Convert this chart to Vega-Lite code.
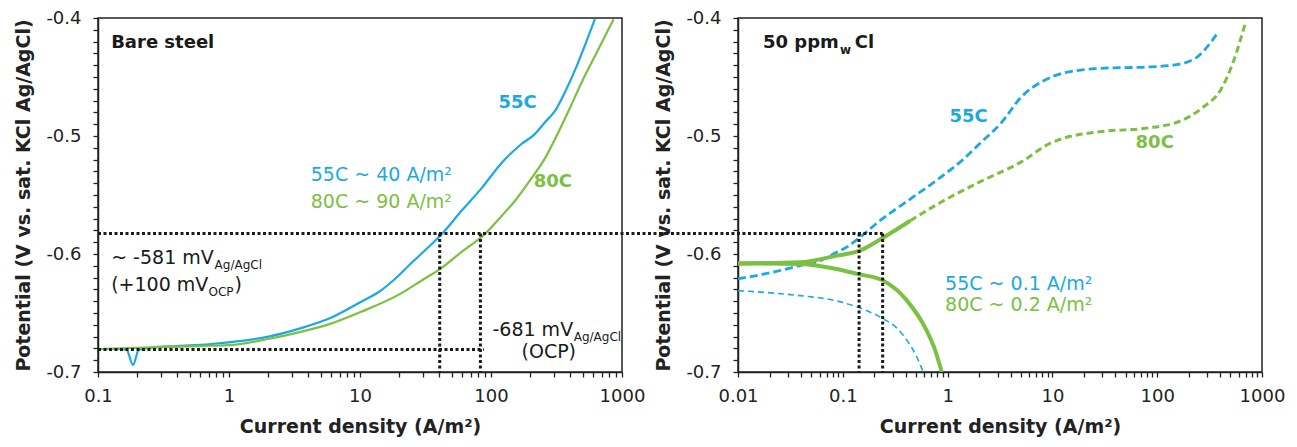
{
  "$schema": "https://vega.github.io/schema/vega-lite/v6.json",
  "background": "white",
  "padding": {"left": 14, "top": 8, "right": 0, "bottom": 0},
  "bounds": "flush",
  "spacing": 116,
  "config": {
    "font": "DejaVu Sans",
    "view": {"stroke": "#222", "strokeWidth": 1.5},
    "axis": {
      "grid": false, "domainColor": "#222", "domainWidth": 1.5,
      "tickColor": "#222", "tickWidth": 1.3, "tickSize": 5,
      "labelFont": "DejaVu Sans", "labelFontSize": 18, "labelColor": "#222",
      "titleFont": "DejaVu Sans", "titleFontSize": 19, "titleFontWeight": "bold", "titleColor": "#222",
      "labelOverlap": false, "labelFlush": false
    }
  },
  "datasets": {
    "bare": [
      {"x": 0.1, "v": -0.6805, "series": "55C"},
      {"x": 0.14, "v": -0.6805, "series": "55C"},
      {"x": 0.165, "v": -0.681, "series": "55C"},
      {"x": 0.185, "v": -0.694, "series": "55C"},
      {"x": 0.205, "v": -0.681, "series": "55C"},
      {"x": 0.25, "v": -0.6795, "series": "55C"},
      {"x": 0.4, "v": -0.678, "series": "55C"},
      {"x": 0.7, "v": -0.6765, "series": "55C"},
      {"x": 1.08, "v": -0.6744, "series": "55C"},
      {"x": 2, "v": -0.67, "series": "55C"},
      {"x": 3.5, "v": -0.663, "series": "55C"},
      {"x": 6, "v": -0.654, "series": "55C"},
      {"x": 10.2, "v": -0.6404, "series": "55C"},
      {"x": 14, "v": -0.632, "series": "55C"},
      {"x": 18.2, "v": -0.6218, "series": "55C"},
      {"x": 25, "v": -0.607, "series": "55C"},
      {"x": 32, "v": -0.596, "series": "55C"},
      {"x": 41.8, "v": -0.5835, "series": "55C"},
      {"x": 60, "v": -0.563, "series": "55C"},
      {"x": 84.5, "v": -0.5444, "series": "55C"},
      {"x": 120, "v": -0.523, "series": "55C"},
      {"x": 170, "v": -0.507, "series": "55C"},
      {"x": 215, "v": -0.4986, "series": "55C"},
      {"x": 260, "v": -0.488, "series": "55C"},
      {"x": 307, "v": -0.479, "series": "55C"},
      {"x": 370, "v": -0.462, "series": "55C"},
      {"x": 450, "v": -0.441, "series": "55C"},
      {"x": 530, "v": -0.421, "series": "55C"},
      {"x": 621, "v": -0.401, "series": "55C"},
      {"x": 0.1, "v": -0.6805, "series": "80C"},
      {"x": 0.3, "v": -0.679, "series": "80C"},
      {"x": 0.6, "v": -0.678, "series": "80C"},
      {"x": 1.08, "v": -0.677, "series": "80C"},
      {"x": 2, "v": -0.672, "series": "80C"},
      {"x": 3.53, "v": -0.666, "series": "80C"},
      {"x": 6, "v": -0.659, "series": "80C"},
      {"x": 10.2, "v": -0.649, "series": "80C"},
      {"x": 20.6, "v": -0.6334, "series": "80C"},
      {"x": 30, "v": -0.622, "series": "80C"},
      {"x": 41.8, "v": -0.612, "series": "80C"},
      {"x": 60, "v": -0.598, "series": "80C"},
      {"x": 89, "v": -0.5835, "series": "80C"},
      {"x": 120, "v": -0.568, "series": "80C"},
      {"x": 151, "v": -0.5555, "series": "80C"},
      {"x": 200, "v": -0.537, "series": "80C"},
      {"x": 258, "v": -0.519, "series": "80C"},
      {"x": 320, "v": -0.499, "series": "80C"},
      {"x": 390, "v": -0.479, "series": "80C"},
      {"x": 500, "v": -0.453, "series": "80C"},
      {"x": 650, "v": -0.428, "series": "80C"},
      {"x": 862, "v": -0.401, "series": "80C"}
    ],
    "cl": [
      {"x": 0.01, "v": -0.6211, "series": "55C", "branch": "anodic"},
      {"x": 0.02, "v": -0.616, "series": "55C", "branch": "anodic"},
      {"x": 0.039, "v": -0.6099, "series": "55C", "branch": "anodic"},
      {"x": 0.06, "v": -0.606, "series": "55C", "branch": "anodic"},
      {"x": 0.081, "v": -0.6, "series": "55C", "branch": "anodic"},
      {"x": 0.11, "v": -0.594, "series": "55C", "branch": "anodic"},
      {"x": 0.145, "v": -0.586, "series": "55C", "branch": "anodic"},
      {"x": 0.226, "v": -0.5718, "series": "55C", "branch": "anodic"},
      {"x": 0.4, "v": -0.556, "series": "55C", "branch": "anodic"},
      {"x": 0.83, "v": -0.536, "series": "55C", "branch": "anodic"},
      {"x": 1.4, "v": -0.52, "series": "55C", "branch": "anodic"},
      {"x": 2.05, "v": -0.506, "series": "55C", "branch": "anodic"},
      {"x": 3.24, "v": -0.489, "series": "55C", "branch": "anodic"},
      {"x": 5.1, "v": -0.4665, "series": "55C", "branch": "anodic"},
      {"x": 8.0, "v": -0.4538, "series": "55C", "branch": "anodic"},
      {"x": 12.7, "v": -0.4467, "series": "55C", "branch": "anodic"},
      {"x": 31.5, "v": -0.4425, "series": "55C", "branch": "anodic"},
      {"x": 78, "v": -0.4416, "series": "55C", "branch": "anodic"},
      {"x": 148, "v": -0.4397, "series": "55C", "branch": "anodic"},
      {"x": 233, "v": -0.434, "series": "55C", "branch": "anodic"},
      {"x": 321, "v": -0.4212, "series": "55C", "branch": "anodic"},
      {"x": 385, "v": -0.4113, "series": "55C", "branch": "anodic"},
      {"x": 0.01, "v": -0.631, "series": "55C", "branch": "cathodic"},
      {"x": 0.039, "v": -0.6353, "series": "55C", "branch": "cathodic"},
      {"x": 0.08, "v": -0.639, "series": "55C", "branch": "cathodic"},
      {"x": 0.14, "v": -0.6452, "series": "55C", "branch": "cathodic"},
      {"x": 0.244, "v": -0.655, "series": "55C", "branch": "cathodic"},
      {"x": 0.33, "v": -0.663, "series": "55C", "branch": "cathodic"},
      {"x": 0.41, "v": -0.6733, "series": "55C", "branch": "cathodic"},
      {"x": 0.5, "v": -0.686, "series": "55C", "branch": "cathodic"},
      {"x": 0.586, "v": -0.7, "series": "55C", "branch": "cathodic"},
      {"x": 0.01, "v": -0.608, "series": "80C", "branch": "anodic-near-ocp"},
      {"x": 0.039, "v": -0.607, "series": "80C", "branch": "anodic-near-ocp"},
      {"x": 0.0875, "v": -0.6014, "series": "80C", "branch": "anodic-near-ocp"},
      {"x": 0.145, "v": -0.5972, "series": "80C", "branch": "anodic-near-ocp"},
      {"x": 0.244, "v": -0.586, "series": "80C", "branch": "anodic-near-ocp"},
      {"x": 0.44, "v": -0.5718, "series": "80C", "branch": "anodic-near-ocp"},
      {"x": 0.44, "v": -0.5718, "series": "80C", "branch": "anodic"},
      {"x": 0.83, "v": -0.557, "series": "80C", "branch": "anodic"},
      {"x": 2.05, "v": -0.5387, "series": "80C", "branch": "anodic"},
      {"x": 5.1, "v": -0.5217, "series": "80C", "branch": "anodic"},
      {"x": 9.6, "v": -0.506, "series": "80C", "branch": "anodic"},
      {"x": 12.7, "v": -0.502, "series": "80C", "branch": "anodic"},
      {"x": 31.5, "v": -0.496, "series": "80C", "branch": "anodic"},
      {"x": 78, "v": -0.4934, "series": "80C", "branch": "anodic"},
      {"x": 162, "v": -0.4877, "series": "80C", "branch": "anodic"},
      {"x": 280, "v": -0.475, "series": "80C", "branch": "anodic"},
      {"x": 403, "v": -0.461, "series": "80C", "branch": "anodic"},
      {"x": 528, "v": -0.438, "series": "80C", "branch": "anodic"},
      {"x": 695, "v": -0.404, "series": "80C", "branch": "anodic"},
      {"x": 0.01, "v": -0.608, "series": "80C", "branch": "cathodic"},
      {"x": 0.039, "v": -0.6085, "series": "80C", "branch": "cathodic"},
      {"x": 0.08, "v": -0.612, "series": "80C", "branch": "cathodic"},
      {"x": 0.14, "v": -0.617, "series": "80C", "branch": "cathodic"},
      {"x": 0.244, "v": -0.6226, "series": "80C", "branch": "cathodic"},
      {"x": 0.41, "v": -0.6395, "series": "80C", "branch": "cathodic"},
      {"x": 0.632, "v": -0.665, "series": "80C", "branch": "cathodic"},
      {"x": 0.75, "v": -0.68, "series": "80C", "branch": "cathodic"},
      {"x": 0.879, "v": -0.7, "series": "80C", "branch": "cathodic"}
    ],
    "bareGuides": [
      {"x": 0.1, "x2": 2025, "v": -0.5827, "v2": -0.5827, "series": "note"},
      {"x": 0.1, "x2": 88, "v": -0.681, "v2": -0.681, "series": "note"},
      {"x": 40.6, "x2": 40.6, "v": -0.5827, "v2": -0.7, "series": "note"},
      {"x": 83, "x2": 83, "v": -0.5827, "v2": -0.7, "series": "note"}
    ],
    "clGuides": [
      {"x": 0.0018, "x2": 0.24, "v": -0.5827, "v2": -0.5827, "series": "note"},
      {"x": 0.143, "x2": 0.143, "v": -0.5827, "v2": -0.7, "series": "note"},
      {"x": 0.24, "x2": 0.24, "v": -0.5827, "v2": -0.7, "series": "note"}
    ],
    "bareText": [
      {"x": 0.126, "v": -0.4212, "text": "Bare steel", "kind": "heading", "series": "note"},
      {"x": 114, "v": -0.472, "text": "55C", "kind": "heading", "series": "55C"},
      {"x": 212, "v": -0.5387, "text": "80C", "kind": "heading", "series": "80C"},
      {"x": 4.21, "v": -0.533, "text": "55C ~ 40 A/m²", "kind": "note", "series": "55C"},
      {"x": 4.21, "v": -0.5557, "text": "80C ~ 90 A/m²", "kind": "note", "series": "80C"},
      {"x": 0.126, "v": -0.6038, "text": "~ -581 mV", "kind": "note", "series": "note"},
      {"x": 0.776, "v": -0.6038, "text": "Ag/AgCl", "kind": "sub", "series": "note"},
      {"x": 0.126, "v": -0.6264, "text": "(+100 mV", "kind": "note", "series": "note"},
      {"x": 0.697, "v": -0.6264, "text": "OCP", "kind": "sub", "series": "note"},
      {"x": 1.1, "v": -0.6264, "text": ")", "kind": "note", "series": "note"},
      {"x": 102.6, "v": -0.6646, "text": "-681 mV", "kind": "note", "series": "note"},
      {"x": 428, "v": -0.6646, "text": "Ag/AgCl", "kind": "sub", "series": "note"},
      {"x": 171, "v": -0.683, "text": "(OCP)", "kind": "note", "series": "note"}
    ],
    "clText": [
      {"x": 0.0173, "v": -0.4212, "text": "50 ppm", "kind": "heading", "series": "note"},
      {"x": 0.094, "v": -0.4212, "text": "w", "kind": "sub", "series": "note"},
      {"x": 0.13, "v": -0.4212, "text": "Cl", "kind": "heading", "series": "note"},
      {"x": 1.04, "v": -0.4835, "text": "55C", "kind": "heading", "series": "55C"},
      {"x": 62.2, "v": -0.506, "text": "80C", "kind": "heading", "series": "80C"},
      {"x": 0.947, "v": -0.625, "text": "55C ~ 0.1 A/m²", "kind": "note", "series": "55C"},
      {"x": 0.947, "v": -0.6434, "text": "80C ~ 0.2 A/m²", "kind": "note", "series": "80C"}
    ]
  },
  "hconcat": [
    {
      "width": 524,
      "height": 354,
      "encoding": {
        "x": {
          "field": "x", "type": "quantitative", "title": "Current density (A/m²)",
          "scale": {"type": "log", "domain": [0.1, 1000], "nice": false},
          "axis": {
            "values": [0.1,0.2,0.3,0.4,0.5,0.6,0.7,0.8,0.9,1,2,3,4,5,6,7,8,9,10,20,30,40,50,60,70,80,90,100,200,300,400,500,600,700,800,900,1000],
            "labelExpr": "abs(log(datum.value)/LN10 - round(log(datum.value)/LN10)) < 0.001 ? format(datum.value, '~g') : ''",
            "labelPadding": 10, "titlePadding": 12
          }
        },
        "y": {
          "field": "v", "type": "quantitative", "title": "Potential (V vs. sat. KCl Ag/AgCl)",
          "scale": {"domain": [-0.7, -0.4], "nice": false, "zero": false},
          "axis": {
            "values": [-0.7,-0.69,-0.68,-0.67,-0.66,-0.65,-0.64,-0.63,-0.62,-0.61,-0.6,-0.59,-0.58,-0.57,-0.56,-0.55,-0.54,-0.53,-0.52,-0.51,-0.5,-0.49,-0.48,-0.47,-0.46,-0.45,-0.44,-0.43,-0.42,-0.41,-0.4],
            "labelExpr": "abs(datum.value*10 - round(datum.value*10)) < 0.001 ? (datum.value < 0 ? '-' : '') + format(abs(datum.value), '.1f') : ''",
            "labelPadding": 12, "titlePadding": 12
          }
        },
        "color": {
          "field": "series", "type": "nominal", "legend": null,
          "scale": {"domain": ["55C", "80C", "note"], "range": ["#1AA9E3", "#7CC043", "#1a1a1a"]}
        }
      },
      "layer": [
        {
          "data": {"name": "bare"},
          "mark": {"type": "line", "strokeWidth": 2.2, "interpolate": "monotone", "clip": true}
        },
        {
          "data": {"name": "bareGuides"},
          "mark": {"type": "rule", "strokeWidth": 3, "strokeDash": [3, 2.5], "clip": false},
          "encoding": {"x2": {"field": "x2"}, "y2": {"field": "v2"}}
        },
        {
          "data": {"name": "bareText"},
          "transform": [{"filter": "datum.kind == 'heading'"}],
          "mark": {"type": "text", "align": "left", "baseline": "middle", "fontSize": 18, "fontWeight": "bold"},
          "encoding": {"text": {"field": "text"}}
        },
        {
          "data": {"name": "bareText"},
          "transform": [{"filter": "datum.kind == 'note'"}],
          "mark": {"type": "text", "align": "left", "baseline": "middle", "fontSize": 19},
          "encoding": {"text": {"field": "text"}}
        },
        {
          "data": {"name": "bareText"},
          "transform": [{"filter": "datum.kind == 'sub'"}],
          "mark": {"type": "text", "align": "left", "baseline": "middle", "fontSize": 12, "dy": 7},
          "encoding": {"text": {"field": "text"}}
        }
      ]
    },
    {
      "width": 524,
      "height": 354,
      "encoding": {
        "x": {
          "field": "x", "type": "quantitative", "title": "Current density (A/m²)",
          "scale": {"type": "log", "domain": [0.01, 1000], "nice": false},
          "axis": {
            "values": [0.01,0.02,0.03,0.04,0.05,0.06,0.07,0.08,0.09,0.1,0.2,0.3,0.4,0.5,0.6,0.7,0.8,0.9,1,2,3,4,5,6,7,8,9,10,20,30,40,50,60,70,80,90,100,200,300,400,500,600,700,800,900,1000],
            "labelExpr": "abs(log(datum.value)/LN10 - round(log(datum.value)/LN10)) < 0.001 ? format(datum.value, '~g') : ''",
            "labelPadding": 10, "titlePadding": 12
          }
        },
        "y": {
          "field": "v", "type": "quantitative", "title": "Potential (V vs. sat. KCl Ag/AgCl)",
          "scale": {"domain": [-0.7, -0.4], "nice": false, "zero": false},
          "axis": {
            "values": [-0.7,-0.69,-0.68,-0.67,-0.66,-0.65,-0.64,-0.63,-0.62,-0.61,-0.6,-0.59,-0.58,-0.57,-0.56,-0.55,-0.54,-0.53,-0.52,-0.51,-0.5,-0.49,-0.48,-0.47,-0.46,-0.45,-0.44,-0.43,-0.42,-0.41,-0.4],
            "labelExpr": "abs(datum.value*10 - round(datum.value*10)) < 0.001 ? (datum.value < 0 ? '-' : '') + format(abs(datum.value), '.1f') : ''",
            "labelPadding": 12, "titlePadding": 12
          }
        },
        "color": {
          "field": "series", "type": "nominal", "legend": null,
          "scale": {"domain": ["55C", "80C", "note"], "range": ["#1AA9E3", "#7CC043", "#1a1a1a"]}
        }
      },
      "layer": [
        {
          "data": {"name": "cl"},
          "transform": [{"filter": "datum.series == '55C' && datum.branch == 'anodic'"}],
          "mark": {"type": "line", "strokeWidth": 2.8, "strokeDash": [8, 4], "interpolate": "monotone", "clip": true}
        },
        {
          "data": {"name": "cl"},
          "transform": [{"filter": "datum.series == '55C' && datum.branch == 'cathodic'"}],
          "mark": {"type": "line", "strokeWidth": 1.6, "strokeDash": [6, 4], "interpolate": "monotone", "clip": true}
        },
        {
          "data": {"name": "cl"},
          "transform": [{"filter": "datum.series == '80C' && datum.branch == 'anodic'"}],
          "mark": {"type": "line", "strokeWidth": 3, "strokeDash": [7, 4], "interpolate": "monotone", "clip": true}
        },
        {
          "data": {"name": "cl"},
          "transform": [{"filter": "datum.series == '80C' && datum.branch != 'anodic'"}],
          "mark": {"type": "line", "strokeWidth": 4, "interpolate": "monotone", "clip": true},
          "encoding": {"detail": {"field": "branch"}}
        },
        {
          "data": {"name": "clGuides"},
          "mark": {"type": "rule", "strokeWidth": 3, "strokeDash": [3, 2.5], "clip": false},
          "encoding": {"x2": {"field": "x2"}, "y2": {"field": "v2"}}
        },
        {
          "data": {"name": "clText"},
          "transform": [{"filter": "datum.kind == 'heading'"}],
          "mark": {"type": "text", "align": "left", "baseline": "middle", "fontSize": 18, "fontWeight": "bold"},
          "encoding": {"text": {"field": "text"}}
        },
        {
          "data": {"name": "clText"},
          "transform": [{"filter": "datum.kind == 'note'"}],
          "mark": {"type": "text", "align": "left", "baseline": "middle", "fontSize": 19},
          "encoding": {"text": {"field": "text"}}
        },
        {
          "data": {"name": "clText"},
          "transform": [{"filter": "datum.kind == 'sub'"}],
          "mark": {"type": "text", "align": "left", "baseline": "middle", "fontSize": 12, "fontWeight": "bold", "dy": 7},
          "encoding": {"text": {"field": "text"}}
        }
      ]
    }
  ]
}
